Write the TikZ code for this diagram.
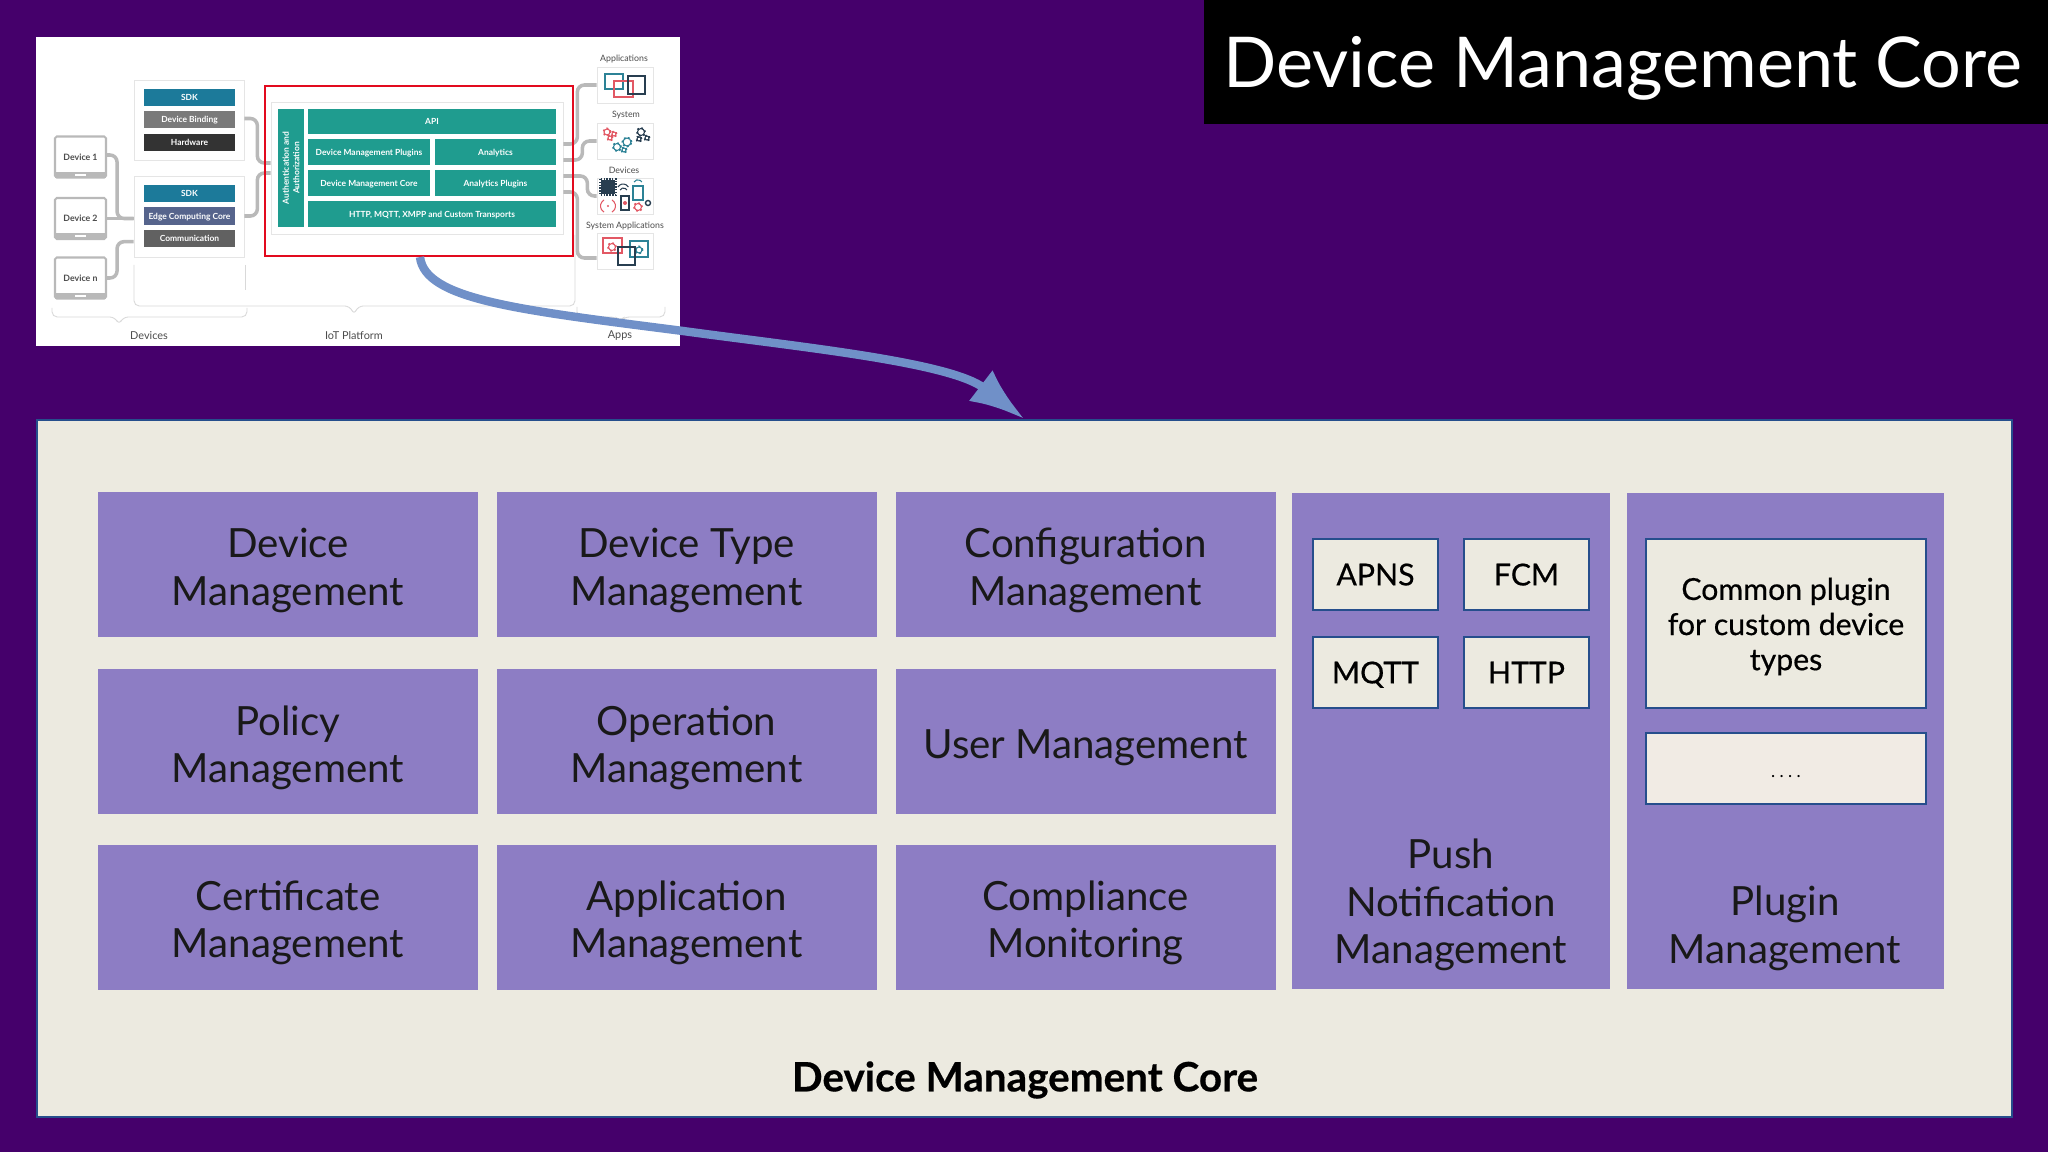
\documentclass[tikz,border=0pt]{standalone}
\usepackage{fontspec}
\usetikzlibrary{arrows.meta}
\setmainfont{Lato}
\newfontfamily\medfont[FakeBold=0.5]{Lato}
\newfontfamily\dotsfont[LetterSpace=25]{Lato}

\definecolor{bgpurple}{RGB}{69,0,107}
\definecolor{cellpurple}{RGB}{141,125,196}
\definecolor{panelcream}{RGB}{236,234,224}
\definecolor{edgeblue}{RGB}{38,78,140}
\definecolor{arrowblue}{RGB}{112,144,200}
\definecolor{tealbar}{RGB}{31,156,143}
\definecolor{sdkblue}{RGB}{28,122,154}
\definecolor{linkgrey}{RGB}{185,185,185}
\definecolor{iconred}{RGB}{226,88,100}
\definecolor{iconteal}{RGB}{44,130,150}
\definecolor{icondark}{RGB}{40,62,80}

\tikzset{
  cell/.style={fill=cellpurple, minimum width=3.8cm, minimum height=1.45cm, inner sep=0pt},
  celltext/.style={inner sep=0pt, align=center, text=black!90, yshift=-.06cm, font=\fontsize{11.45}{13.5}\selectfont},
  side/.style={fill=cellpurple, minimum height=4.96cm, inner sep=0pt},
  sidetext/.style={align=center, inner sep=0pt, text=black!90, font=\fontsize{11.45}{13.5}\selectfont},
  proto/.style={fill=panelcream, draw=edgeblue, line width=.5pt, minimum width=1.25cm, minimum height=.71cm,
    inner sep=0pt, text height=6.2pt, text depth=0pt, font=\medfont\fontsize{8.6}{10}\selectfont},
  bar/.style={fill=tealbar, text=white, inner sep=0pt, text height=2.3pt, text depth=.5pt, font=\fontsize{2.4}{3}\bfseries\selectfont},
  group/.style={fill=white, draw=black!10, line width=.2pt, inner sep=0pt},
  device/.style={fill=white, draw=linkgrey, line width=.6pt, rounded corners=.5pt, minimum width=.51cm, minimum height=.41cm,
    inner sep=0pt, text=black!70, font=\fontsize{2.5}{3}\bfseries\selectfont},
  appbox/.style={fill=white, draw=black!10, line width=.2pt, minimum width=.56cm, minimum height=.36cm, inner sep=0pt},
  applabel/.style={inner sep=0pt, text=black!70, font=\fontsize{2.5}{3}\selectfont},
  caption/.style={inner sep=0pt, text=black!70, font=\fontsize{3.1}{4}\selectfont},
  link/.style={draw=linkgrey, line width=1pt, rounded corners=2pt},
  bracket/.style={draw=black!15, line width=.25pt, rounded corners=1.5pt},
}

\newcommand{\winicon}[5]{% x, y, width, height, colour
  \draw[#5, line width=.3pt] (#1,#2) rectangle ++(#3,-#4);
  \fill[#5] (#1,#2) rectangle ++(#3,-.015);
}
\newcommand{\gearicon}[4]{% x, y, radius, colour
  \draw[#4, line width=.3pt] (#1,#2) circle (#3);
  \draw[#4, line width=.5pt, dash pattern=on .5pt off .7pt] (#1,#2) circle (#3+.006);
}

\begin{document}
\begin{tikzpicture}

\useasboundingbox (0,0) rectangle (20.48,-11.52);
\fill[bgpurple] (0,0) rectangle (20.48,-11.52);

% title
\node[fill=black, minimum width=8.44cm, minimum height=1.24cm, inner sep=0pt,
  label={[text=white, inner sep=0pt, xshift=-.03cm, text height=14.4pt, text depth=0pt, font=\fontsize{19.95}{24}\selectfont]center:Device Management Core}] (title) at (16.26,-.62) {};

% small overview picture
\node[fill=white, minimum width=6.44cm, minimum height=3.09cm, inner sep=0pt] (thumb) at (3.58,-1.915) {};

\node[group, minimum width=1.1cm, minimum height=.8cm] (groupa) at (1.89,-1.2) {};
\node[group, minimum width=1.1cm, minimum height=.81cm] (groupb) at (1.89,-2.165) {};
\node[group, minimum width=2.92cm, minimum height=1.32cm] (inner) at (4.17,-1.68) {};

\node[bar, fill=sdkblue, minimum width=.91cm, minimum height=.17cm] (sdka) at (1.895,-.975) {SDK};
\node[bar, fill=black!52, minimum width=.91cm, minimum height=.17cm] (binding) at (1.895,-1.195) {Device Binding};
\node[bar, fill=black!80, minimum width=.91cm, minimum height=.17cm] (hardware) at (1.895,-1.425) {Hardware};
\node[bar, fill=sdkblue, minimum width=.91cm, minimum height=.17cm] (sdkb) at (1.895,-1.935) {SDK};
\node[bar, fill={rgb,255:red,86;green,100;blue,140}, minimum width=.91cm, minimum height=.18cm] (edge) at (1.895,-2.16) {Edge Computing Core};
\node[bar, fill=black!62, minimum width=.91cm, minimum height=.17cm] (comm) at (1.895,-2.385) {Communication};

\node[device] (deva) at (.805,-1.57) {Device 1};
\node[device] (devb) at (.805,-2.185) {Device 2};
\node[device] (devc) at (.805,-2.78) {Device n};
\fill[linkgrey] (.55,-1.72) rectangle (1.06,-1.78);
\fill[white] (.75,-1.74) rectangle (.86,-1.76);
\fill[linkgrey] (.55,-2.33) rectangle (1.06,-2.39);
\fill[white] (.75,-2.35) rectangle (.86,-2.37);
\fill[linkgrey] (.55,-2.93) rectangle (1.06,-2.99);
\fill[white] (.75,-2.95) rectangle (.86,-2.97);

\node[bar, minimum width=.26cm, minimum height=1.18cm] (auth) at (2.91,-1.68) {};
\node[inner sep=0pt, rotate=90, align=center, text=white, font=\fontsize{2.4}{3}\bfseries\selectfont] (authtext) at (auth) {Authentication and\\Authorization};
\node[bar, minimum width=2.48cm, minimum height=.25cm] (api) at (4.32,-1.215) {API};
\node[bar, minimum width=1.22cm, minimum height=.26cm] (plugins) at (3.69,-1.52) {Device Management Plugins};
\node[bar, minimum width=1.21cm, minimum height=.26cm] (analytics) at (4.955,-1.52) {Analytics};
\node[bar, minimum width=1.22cm, minimum height=.26cm] (core) at (3.69,-1.83) {Device Management Core};
\node[bar, minimum width=1.21cm, minimum height=.26cm] (anaplug) at (4.955,-1.83) {Analytics Plugins};
\node[bar, minimum width=2.48cm, minimum height=.26cm] (http) at (4.32,-2.14) {HTTP, MQTT, XMPP and Custom Transports};

\node[appbox] (appa) at (6.25,-.85) {};
\node[appbox] (appb) at (6.25,-1.41) {};
\node[appbox] (appc) at (6.25,-1.96) {};
\node[appbox] (appd) at (6.25,-2.51) {};
\node[applabel] (labela) at (6.24,-.59) {Applications};
\node[applabel] (labelb) at (6.26,-1.15) {System};
\node[applabel] (labelc) at (6.24,-1.7) {Devices};
\node[applabel] (labeld) at (6.25,-2.26) {System Applications};

% connectors
\draw[link] ([yshift=.02cm]deva.east) -- ++(.1,0) |- ([yshift=-.02cm]groupb.west);
\draw[link] (devb.east) -- (groupb.west |- devb.east);
\draw[link] (devc.east) -- ++(.1,0) |- ([yshift=-.66cm]groupb.north west);
\draw[link] ([yshift=.01cm]binding.east -| groupa.east) -- ++(.13,0) |- ([yshift=.05cm]inner.west);
\draw[link] (edge.east -| groupb.east) -- ++(.13,0) |- ([yshift=-.05cm]inner.west);
\draw[link] ([yshift=.24cm]inner.east) -- ++(.14,0) |- (appa.west);
\draw[link] ([yshift=.08cm]inner.east) -- ++(.19,0) |- (appb.west);
\draw[link] ([yshift=-.08cm]inner.east) -- ++(.24,0) |- (appc.west);
\draw[link] ([yshift=-.24cm]inner.east) -- ++(.14,0) |- ([yshift=-.07cm]appd.west);

% icons
\winicon{6.05}{-.74}{.18}{.15}{iconteal}
\winicon{6.14}{-.81}{.19}{.16}{iconred}
\winicon{6.28}{-.76}{.17}{.18}{icondark}
\gearicon{6.07}{-1.32}{.03}{iconred}
\gearicon{6.14}{-1.34}{.02}{iconred}
\gearicon{6.1}{-1.38}{.02}{iconred}
\gearicon{6.27}{-1.42}{.04}{iconteal}
\gearicon{6.17}{-1.47}{.035}{iconteal}
\gearicon{6.24}{-1.5}{.02}{iconteal}
\gearicon{6.41}{-1.32}{.035}{icondark}
\gearicon{6.47}{-1.38}{.02}{icondark}
\gearicon{6.39}{-1.39}{.02}{icondark}
\fill[icondark] (6.01,-1.8) rectangle (6.15,-1.94);
\draw[icondark, line width=.6pt, dash pattern=on .4pt off .4pt] (6,-1.79) rectangle (6.16,-1.95);
\draw[icondark, line width=.3pt] (6.2,-1.9) arc (150:30:.04);
\draw[icondark, line width=.3pt] (6.18,-1.87) arc (150:30:.06);
\draw[icondark, line width=.8pt] (6.21,-1.96) rectangle (6.29,-2.1);
\fill[iconred] (6.25,-2.03) circle (.02);
\fill[iconred] (6.08,-2.06) circle (.012);
\draw[iconred, line width=.3pt] (6.04,-2) arc (120:240:.07);
\draw[iconred, line width=.3pt] (6.12,-2) arc (60:-60:.07);
\draw[iconteal, line width=.3pt] (6.33,-1.86) rectangle (6.43,-2);
\draw[iconteal, line width=.3pt] (6.34,-1.82) arc (150:30:.045);
\gearicon{6.38}{-2.07}{.035}{iconred}
\draw[icondark, line width=.4pt] (6.48,-2.03) circle (.025);
\winicon{6.03}{-2.38}{.19}{.15}{iconred}
\gearicon{6.12}{-2.47}{.035}{iconred}
\winicon{6.3}{-2.41}{.18}{.16}{iconteal}
\gearicon{6.39}{-2.5}{.03}{iconteal}
\winicon{6.18}{-2.47}{.17}{.18}{icondark}

% brackets
\draw[bracket] (.52,-3.08) |- (1.15,-3.17) -- (1.19,-3.25) -- (1.23,-3.17) -| (2.47,-3.08);
\draw[bracket] (2.45,-2.65) -- (2.45,-2.9);
\draw[bracket] (1.34,-2.65) |- (3.5,-3.06) -- (3.54,-3.15) -- (3.58,-3.06) -| (5.75,-2.35);
\draw[bracket] (5.77,-3.07) |- (6.16,-3.17) -- (6.2,-3.22) -- (6.24,-3.17) -| (6.65,-3.07);
\node[caption] (devices) at (1.49,-3.36) {Devices};
\node[caption] (platform) at (3.54,-3.36) {IoT Platform};
\node[caption] (apps) at (6.2,-3.36) {Apps};

\node[draw={rgb,255:red,226;green,10;blue,30}, line width=.6pt, minimum width=3.08cm, minimum height=1.7cm, inner sep=0pt] (red) at (4.19,-1.71) {};

% main panel
\node[fill=panelcream, draw=edgeblue, line width=.5pt, minimum width=19.75cm, minimum height=6.97cm, inner sep=0pt] (panel) at (10.245,-7.685) {};

\node[cell, label={[celltext]center:Device\\Management}] (devmgmt) at (2.88,-5.645) {};
\node[cell, label={[celltext]center:Device Type\\Management}] (typemgmt) at (6.865,-5.645) {};
\node[cell, label={[celltext]center:Configuration\\Management}] (confmgmt) at (10.855,-5.645) {};
\node[cell, label={[celltext]center:Policy\\Management}] (polmgmt) at (2.88,-7.42) {};
\node[cell, label={[celltext]center:Operation\\Management}] (opmgmt) at (6.865,-7.42) {};
\node[cell, label={[celltext]center:User Management}] (usermgmt) at (10.855,-7.42) {};
\node[cell, label={[celltext]center:Certificate\\Management}] (certmgmt) at (2.88,-9.17) {};
\node[cell, label={[celltext]center:Application\\Management}] (appmgmt) at (6.865,-9.17) {};
\node[cell, label={[celltext]center:Compliance\\Monitoring}] (compl) at (10.855,-9.17) {};

\node[side, minimum width=3.18cm] (push) at (14.51,-7.41) {};
\node[side, minimum width=3.17cm] (plugin) at (17.855,-7.41) {};
\node[sidetext] (pushtext) at (14.51,-9.05) {Push\\Notification\\Management};
\node[sidetext] (plugintext) at (17.85,-9.285) {Plugin\\Management};

\node[proto] (apns) at (13.755,-5.745) {APNS};
\node[proto] (fcm) at (15.265,-5.745) {FCM};
\node[proto] (mqtt) at (13.755,-6.725) {MQTT};
\node[proto] (http2) at (15.265,-6.725) {HTTP};
\node[proto, minimum width=2.8cm, minimum height=1.69cm,
  label={[inner sep=0pt, align=center, yshift=-.03cm, font=\medfont\fontsize{8.6}{10}\selectfont]center:Common plugin\\for custom device\\types}] (common) at (17.86,-6.235) {};
\node[proto, fill={rgb,255:red,241;green,235;blue,228}, minimum width=2.8cm, text height=.18cm,
  font=\dotsfont\fontsize{5}{6}\selectfont] (dots) at (17.86,-7.685) {....};

\node[inner sep=0pt, text=black, font=\medfont\fontsize{11.5}{13}\bfseries\selectfont] (paneltitle) at (10.25,-10.8) {Device Management Core};

% arrow from the red frame to the panel
\draw[arrowblue, line width=2.4pt, -{Latex[length=.55cm, width=.39cm]}] ([xshift=.01cm]red.south) .. controls (4.25,-3) and (5.2,-3.1) .. (6.83,-3.31) .. controls (8,-3.47) and (9.5,-3.62) .. (panel.north);

\end{tikzpicture}
\end{document}
